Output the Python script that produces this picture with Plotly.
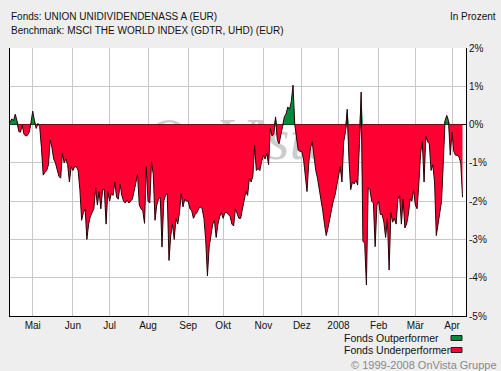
import base64
import pandas as pd
import plotly.graph_objects as go

# ---------------- data ----------------
start_date = "2007-04-12"
end_range = "2008-04-11"

# relative performance fund vs benchmark (%), one value per weekday
diff_pct = [
    0.05, 0.15, 0.1, 0.27, 0.1, -0.18, -0.2, -0.02, -0.25, -0.3,
    -0.28, -0.2, 0.05, 0.35, 0.1, -0.1, 0.03, -0.05, -0.6, -1.32,
    -1.25, -1.2, -1.05, -0.4, -0.6, -0.9, -1.0, -1.2, -1.35, -1.4,
    -0.75, -1.0, -0.9, -1.05, -1.5, -1.1, -1.2, -1.1, -1.1, -1.2,
    -1.7, -2.5, -2.3, -2.2, -3.0, -2.6, -2.4, -2.3, -2.2, -1.65,
    -2.1, -1.75, -2.2, -1.7, -1.7, -2.6, -1.75, -2.0, -1.8, -1.85,
    -1.5, -1.9, -1.95, -1.55, -1.85, -2.0, -2.05, -1.97, -2.05, -2.0,
    -1.95, -1.75, -1.5, -1.3, -2.1, -2.2, -2.25, -2.58, -1.1, -2.0,
    -2.05, -0.97, -1.3, -2.5, -2.1, -1.95, -1.9, -3.2, -2.0, -1.85,
    -1.8, -3.55, -2.9, -2.6, -3.0, -2.45, -2.6, -2.3, -1.8, -2.15,
    -1.95, -2.0, -2.0, -2.2, -2.25, -2.45, -2.35, -2.3, -2.2, -2.15,
    -2.2, -2.45, -3.0, -3.95, -3.2, -2.85, -2.6, -2.5, -2.95, -2.6,
    -2.4, -2.3, -2.45, -2.3, -2.3, -2.35, -2.4, -2.6, -2.65, -2.2,
    -2.35, -2.45, -2.45, -2.2, -1.9, -1.75, -1.85, -1.4, -1.5, -1.35,
    -0.55, -1.2, -1.15, -1.2, -0.97, -0.8, -0.9, -0.75, -1.05, -0.1,
    -0.3, -0.25, 0.2, -0.4, -0.5, -0.3, -0.05, 0.2, 0.28, 0.46,
    0.4, 0.6, 1.03, 0.0, -0.4, -0.67, -0.7, -0.7, -0.9, -1.4,
    -1.75, -1.0, -0.6, -0.45, -0.9, -1.2, -1.4, -1.65, -1.9, -2.25,
    -2.6, -2.9, -2.7, -2.45, -2.2, -2.0, -1.85, -1.6, -1.35, -1.1,
    -1.5, -0.45, -0.2, 0.4, -0.9, -1.7, -1.5, -1.55, -1.45, -1.58,
    -0.5, 0.85, -3.05, -3.1, -4.19, -1.65, -1.7, -2.0, -2.05, -3.19,
    -2.1, -2.0, -2.35, -2.35, -2.55, -2.95, -2.45, -3.8, -2.3, -2.55,
    -2.45, -2.6, -1.95, -1.85, -2.6, -1.95, -2.7, -2.6, -2.35, -1.95,
    -2.0, -1.7, -2.1, -2.2, -1.55, -0.75, -0.45, -1.5, -0.3, -0.45,
    -0.5, -1.2, -1.05, -1.5, -2.9, -2.6, -2.35, -2.0, -1.0, 0.1,
    0.24, 0.1, -0.8, -0.2, -0.7, -0.8, -0.8, -0.85, -1.0, -1.9,
]

month_tickvals = ["2007-05-01", "2007-06-01", "2007-07-02", "2007-08-01",
                  "2007-09-03", "2007-10-01", "2007-11-01", "2007-12-03",
                  "2008-01-01", "2008-02-01", "2008-03-03", "2008-04-01"]
month_ticktext = ["Mai", "Jun", "Jul", "Aug", "Sep", "Okt", "Nov", "Dez",
                  "2008", "Feb", "Mär", "Apr"]
y_tickvals = [2, 1, 0, -1, -2, -3, -4, -5]
y_ticktext = ["2%", "1%", "0%", "-1%", "-2%", "-3%", "-4%", "-5%"]

title_fund = "Fonds: UNION UNIDIVIDENDENASS A (EUR)"
title_bench = "Benchmark: MSCI THE WORLD INDEX (GDTR, UHD) (EUR)"
unit_text = "In Prozent"
legend_out = "Fonds Outperformer"
legend_under = "Fonds Underperformer"
copyright_text = "© 1999-2008 OnVista Gruppe"

# ---------------- build ----------------
dates = pd.bdate_range(start=start_date, periods=len(diff_pct))
pos = [max(v, 0.0) for v in diff_pct]
neg = [min(v, 0.0) for v in diff_pct]

RED = "#FF0033"
GREEN = "#008C3A"
FONT = "Liberation Sans, Arial, sans-serif"

fig = go.Figure()
fig.add_trace(go.Scatter(x=dates, y=neg, mode="lines", fill="tozeroy",
                         fillcolor=RED, line=dict(width=0, color=RED),
                         hoverinfo="skip"))
fig.add_trace(go.Scatter(x=dates, y=pos, mode="lines", fill="tozeroy",
                         fillcolor=GREEN, line=dict(width=0, color=GREEN),
                         hoverinfo="skip"))
fig.add_trace(go.Scatter(x=dates, y=diff_pct, mode="lines",
                         line=dict(width=1, color="#2a0008"),
                         hoverinfo="skip"))

# watermark (behind the data)
svg = ('<svg xmlns="http://www.w3.org/2000/svg" width="220" height="90">'
       '<text x="2" y="65" font-family="Liberation Serif" font-style="italic" '
       'font-size="60" fill="#CDCDCD">OnVista</text></svg>')
src = "data:image/svg+xml;base64," + base64.b64encode(svg.encode()).decode()

fig.update_layout(
    width=501, height=371,
    margin=dict(l=10, r=35, t=48, b=55),
    paper_bgcolor="#EEEEEE", plot_bgcolor="white",
    showlegend=False,
    font=dict(family=FONT, size=10, color="#111"),
    images=[dict(source=src, xref="paper", yref="paper",
                 x=(142 - 10) / 456, y=(316 - 94) / 268,
                 sizex=220 / 456, sizey=90 / 268,
                 xanchor="left", yanchor="top", sizing="stretch",
                 layer="below")],
    xaxis=dict(type="date", range=[dates[0], end_range],
               rangebreaks=[dict(bounds=["sat", "mon"])],
               tickvals=month_tickvals, ticktext=month_ticktext,
               showgrid=True, gridcolor="#C8C8C8", gridwidth=1,
               showline=True, linecolor="black", linewidth=1,
               ticks="", zeroline=False,
               tickfont=dict(family=FONT, size=10, color="#111")),
    yaxis=dict(range=[-5, 2], side="right",
               tickvals=y_tickvals, ticktext=y_ticktext,
               showgrid=True, gridcolor="#C8C8C8", gridwidth=1,
               zeroline=True, zerolinecolor="black", zerolinewidth=1,
               showline=True, linecolor="black", linewidth=1, mirror=True,
               ticks="",
               tickfont=dict(family=FONT, size=10, color="#111")),
)

def px_x(px):
    return (px - 10) / 456

def px_y(py):
    return (316 - py) / 268

ann = [
    dict(text=title_fund, x=px_x(10), y=px_y(17), xanchor="left"),
    dict(text=title_bench, x=px_x(10), y=px_y(31), xanchor="left"),
    dict(text=unit_text, x=px_x(497), y=px_y(17), xanchor="right"),
    dict(text=legend_out, x=px_x(343), y=px_y(338), xanchor="left", size=10.5),
    dict(text=legend_under, x=px_x(343), y=px_y(350), xanchor="left", size=10.5),
    dict(text=copyright_text, x=px_x(498), y=px_y(365), xanchor="right",
         color="#888888", size=11),
]
for a in ann:
    fig.add_annotation(text=a["text"], x=a["x"], y=a["y"], xref="paper",
                       yref="paper", xanchor=a["xanchor"], yanchor="middle",
                       showarrow=False, borderpad=0,
                       font=dict(family=FONT, size=a.get("size", 10),
                                 color=a.get("color", "#111")))

for col, y0, y1 in [(GREEN, 340.5, 335.5), (RED, 352.5, 347.5)]:
    fig.add_shape(type="rect", xref="paper", yref="paper",
                  x0=px_x(451), x1=px_x(462), y0=px_y(y0), y1=px_y(y1),
                  fillcolor=col, line=dict(color="#222", width=1))

fig.write_html(
    "out.html",
    config={"displayModeBar": False, "staticPlot": True},
    post_script="document.body.style.margin='0';document.body.style.padding='0';"
                "document.body.style.background='#EEEEEE';",
)
